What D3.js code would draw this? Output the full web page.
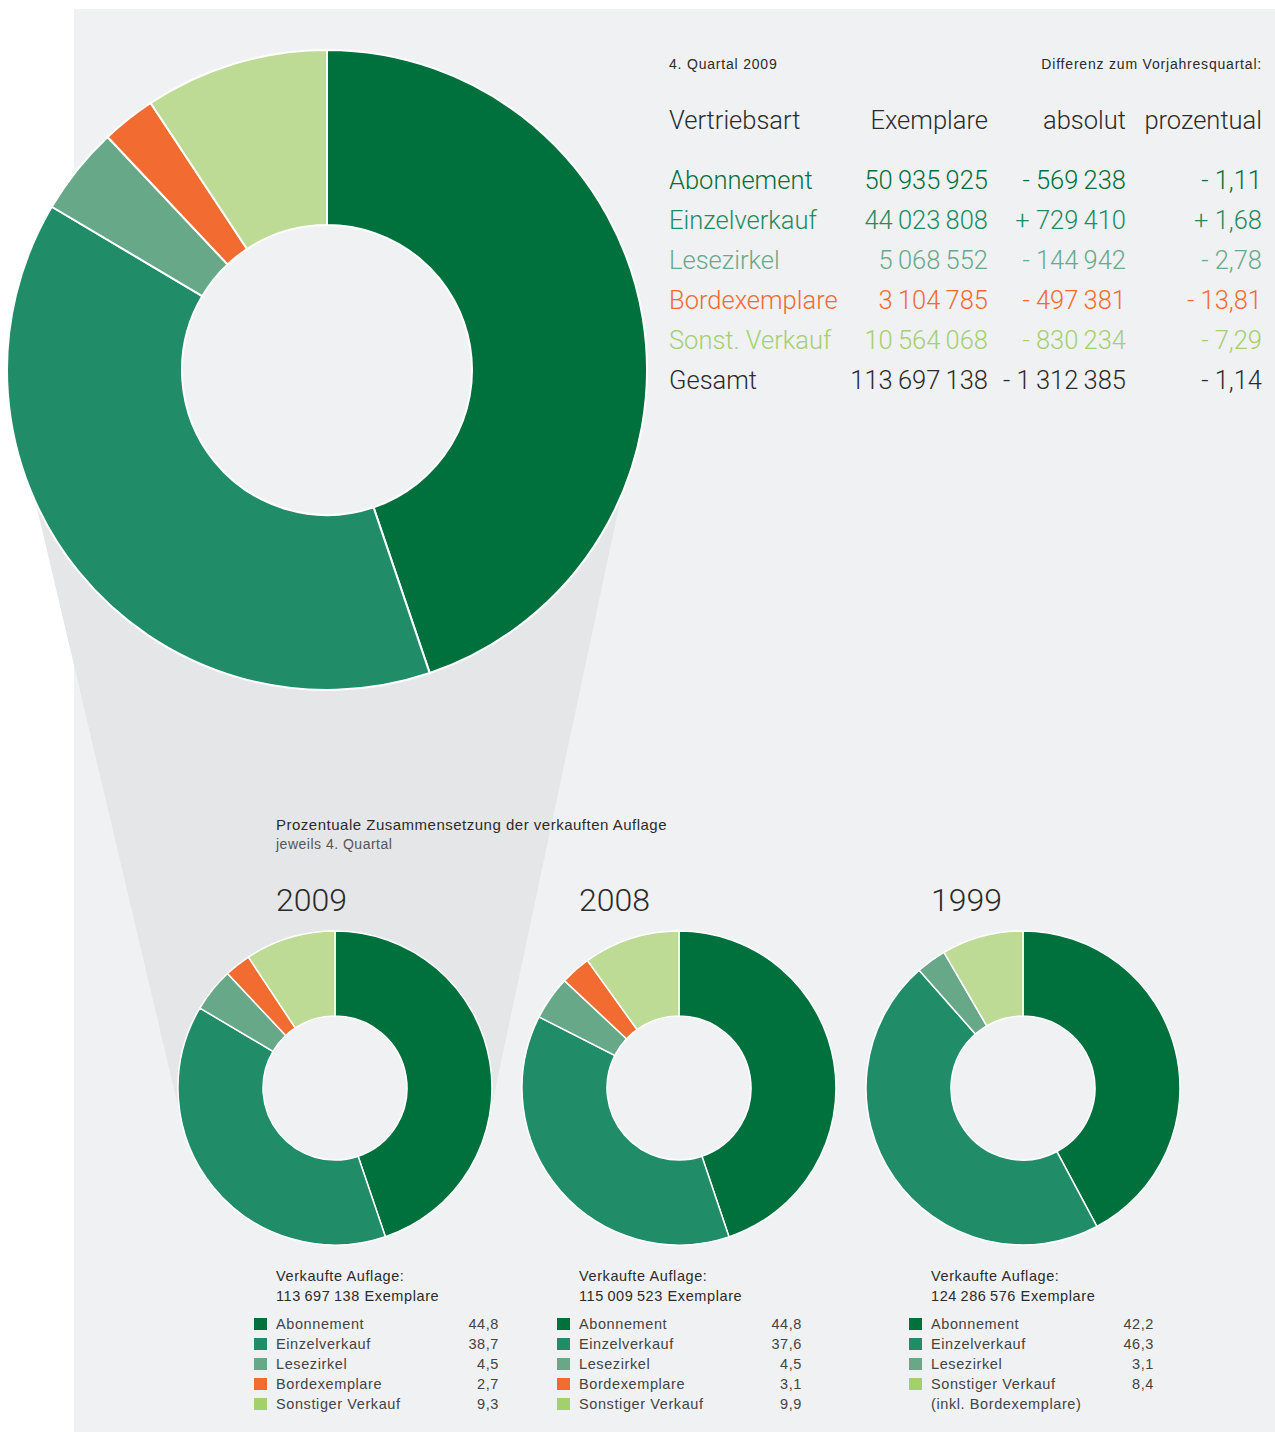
<!DOCTYPE html>
<html>
<head>
<meta charset="utf-8">
<script src="https://cdn.jsdelivr.net/npm/d3@7"></script>
<style>
  body { margin: 0; background: #fff; }
  svg { display: block; }
  text { font-family: Roboto, "Liberation Sans", sans-serif; fill: #2b2b2b; }
  .small { font-family: "Liberation Sans", Arial, sans-serif; font-size: 14px; letter-spacing: 0.8px; }
  .big { font-weight: 300; font-size: 25.5px; }
  .legend text { font-family: "Liberation Sans", Arial, sans-serif; font-size: 14.5px; letter-spacing: 0.6px; }
</style>
</head>
<body>
<div class="canvas"></div>
<script>
// categories and values
const categories = ['Abonnement', 'Einzelverkauf', 'Lesezirkel', 'Bordexemplare', 'Sonstiger Verkauf'];
const tableLabels = ['Abonnement', 'Einzelverkauf', 'Lesezirkel', 'Bordexemplare', 'Sonst. Verkauf', 'Gesamt'];
const exemplare = [50935925, 44023808, 5068552, 3104785, 10564068, 113697138];
const absolut = [-569238, 729410, -144942, -497381, -830234, -1312385];
const prozentual = [-1.11, 1.68, -2.78, -13.81, -7.29, -1.14];

const years = ['2009', '2008', '1999'];
const totals = [113697138, 115009523, 124286576];
const share2009 = [44.8, 38.7, 4.5, 2.7, 9.3];
const share2008 = [44.8, 37.6, 4.5, 3.1, 9.9];
const share1999 = [42.2, 46.3, 3.1, null, 8.4];
const shares = [share2009, share2008, share1999];

const sliceColors = ['#00703c', '#218c68', '#67a888', '#f26c32', '#bddb95'];
const textColors = ['#00703c', '#1f8b5e', '#6aa98a', '#f26b33', '#a3d070', '#2b2b2b'];
const legendColors = ['#00703c', '#218c68', '#67a888', '#f26c32', '#a2d06a'];

const width = 1275, height = 1432;
const panelColor = '#f0f1f3', coneColor = '#e5e6e8';
const svg = d3.select('.canvas')
    .append('svg')
    .attr('width', width)
    .attr('height', height);

const de = d3.formatLocale({ decimal: ',', thousands: '\u2009', grouping: [3], currency: ['', ''] });
const fmtInt = de.format(',d');
const fmtPct = de.format('.2f');
const fmtShare = de.format('.1f');
const signed = (v, f) => (v < 0 ? '- ' : '+ ') + f(Math.abs(v));

// background panel
svg.append('rect')
    .attr('x', 74).attr('y', 9)
    .attr('width', width - 74).attr('height', height - 9)
    .attr('fill', panelColor);

// geometry of the pies
const big = { cx: 327, cy: 370, r: 320, r0: 145 };
const smallR = 157, smallR0 = 72, smallCy = 1088;
const xYear = d3.scalePoint().domain(years).range([335, 1023]);

// zoom cone between big pie and 2009 pie (outer tangents)
function tangents(c1, r1, c2, r2) {
    const dx = c2[0] - c1[0], dy = c2[1] - c1[1];
    const D = Math.hypot(dx, dy);
    const phi = Math.atan2(dy, dx), a = Math.acos((r1 - r2) / D);
    return [phi + a, phi - a].map(t => {
        const n = [Math.cos(t), Math.sin(t)];
        return [[c1[0] + r1 * n[0], c1[1] + r1 * n[1]], [c2[0] + r2 * n[0], c2[1] + r2 * n[1]]];
    });
}
const tg = tangents([big.cx, big.cy], big.r - 6, [xYear('2009'), smallCy], smallR);
svg.append('path')
    .attr('d', d3.line()([tg[0][0], tg[0][1], tg[1][1], tg[1][0]]) + 'Z')
    .attr('fill', coneColor);
svg.append('circle')
    .attr('cx', big.cx).attr('cy', big.cy).attr('r', big.r - 6)
    .attr('fill', coneColor);

const pie = d3.pie().sort(null).value(d => d.v);

// big donut
const bigData = categories.map((c, i) => ({ c, v: exemplare[i], i }));
const bigArc = d3.arc().innerRadius(big.r0).outerRadius(big.r);
const bigG = svg.append('g')
    .attr('transform', `translate(${big.cx},${big.cy})`);
bigG.append('circle').attr('r', big.r0).attr('fill', panelColor);
bigG.selectAll('path')
    .data(pie(bigData))
    .enter()
    .append('path')
    .attr('d', bigArc)
    .attr('fill', d => sliceColors[d.data.i])
    .attr('stroke', '#fff')
    .attr('stroke-width', 2);

// table
const tx0 = 669, colEx = 988, colAbs = 1126, colPct = 1262;
svg.append('text').attr('class', 'small').attr('x', tx0).attr('y', 69).text('4. Quartal 2009');
svg.append('text').attr('class', 'small').attr('x', colPct).attr('y', 69)
    .attr('text-anchor', 'end').text('Differenz zum Vorjahresquartal:');

svg.append('text').attr('class', 'big').attr('x', tx0).attr('y', 129).text('Vertriebsart');
svg.append('text').attr('class', 'big').attr('x', colEx).attr('y', 129).attr('text-anchor', 'end').text('Exemplare');
svg.append('text').attr('class', 'big').attr('x', colAbs).attr('y', 129).attr('text-anchor', 'end').text('absolut');
svg.append('text').attr('class', 'big').attr('x', colPct).attr('y', 129).attr('text-anchor', 'end').text('prozentual');

const rowY = d3.scaleLinear().domain([0, 1]).range([189, 229]);
const rows = svg.append('g')
    .selectAll('g')
    .data(tableLabels)
    .enter()
    .append('g')
    .attr('transform', (d, i) => `translate(0,${rowY(i)})`);
rows.append('text').attr('class', 'big').attr('x', tx0)
    .style('fill', (d, i) => textColors[i]).text(d => d);
rows.append('text').attr('class', 'big').attr('x', colEx).attr('text-anchor', 'end')
    .style('fill', (d, i) => textColors[i]).text((d, i) => fmtInt(exemplare[i]));
rows.append('text').attr('class', 'big').attr('x', colAbs).attr('text-anchor', 'end')
    .style('fill', (d, i) => textColors[i]).text((d, i) => signed(absolut[i], fmtInt));
rows.append('text').attr('class', 'big').attr('x', colPct).attr('text-anchor', 'end')
    .style('fill', (d, i) => textColors[i]).text((d, i) => signed(prozentual[i], fmtPct));

// bottom section
svg.append('text').attr('class', 'small').attr('x', 276).attr('y', 830)
    .style('font-size', '15px').style('letter-spacing', '0.5px')
    .text('Prozentuale Zusammensetzung der verkauften Auflage');
svg.append('text').attr('class', 'small').attr('x', 276).attr('y', 849)
    .style('font-size', '14px').style('letter-spacing', '0.5px').style('fill', '#555')
    .text('jeweils 4. Quartal');

const labelX = { '2009': 276, '2008': 579, '1999': 931 };
const smallArc = d3.arc().innerRadius(smallR0).outerRadius(smallR);

years.forEach((yr, k) => {
    const data = categories.map((c, i) => ({ c, v: shares[k][i], i })).filter(d => d.v != null);
    const lx = labelX[yr];

    svg.append('text')
        .attr('x', lx).attr('y', 911)
        .style('font-size', '32px').style('font-weight', 300)
        .text(yr);

    const g = svg.append('g')
        .attr('transform', `translate(${xYear(yr)},${smallCy})`);
    g.append('circle').attr('r', smallR0).attr('fill', panelColor);
    g.selectAll('path')
        .data(pie(data))
        .enter()
        .append('path')
        .attr('d', smallArc)
        .attr('fill', d => sliceColors[d.data.i])
        .attr('stroke', '#fff')
        .attr('stroke-width', 1.5);

    const lg = svg.append('g').attr('class', 'legend');
    lg.append('text').attr('x', lx).attr('y', 1281).text('Verkaufte Auflage:');
    lg.append('text').attr('x', lx).attr('y', 1301).text(fmtInt(totals[k]) + ' Exemplare');

    const rowsL = lg.selectAll('.row')
        .data(data)
        .enter()
        .append('g')
        .attr('class', 'row')
        .attr('transform', (d, j) => `translate(0,${1329 + j * 20})`);
    rowsL.append('rect')
        .attr('x', lx - 22).attr('y', -11)
        .attr('width', 13).attr('height', 12)
        .attr('fill', d => legendColors[d.i]);
    rowsL.append('text').attr('x', lx).style('fill', '#444').text(d => d.c);
    rowsL.append('text').attr('x', lx + 223).attr('text-anchor', 'end')
        .style('fill', '#444').text(d => fmtShare(d.v));

    if (yr === '1999') {
        lg.append('text').attr('x', lx).attr('y', 1329 + data.length * 20)
            .style('fill', '#444').text('(inkl. Bordexemplare)');
    }
});
</script>
</body>
</html>
